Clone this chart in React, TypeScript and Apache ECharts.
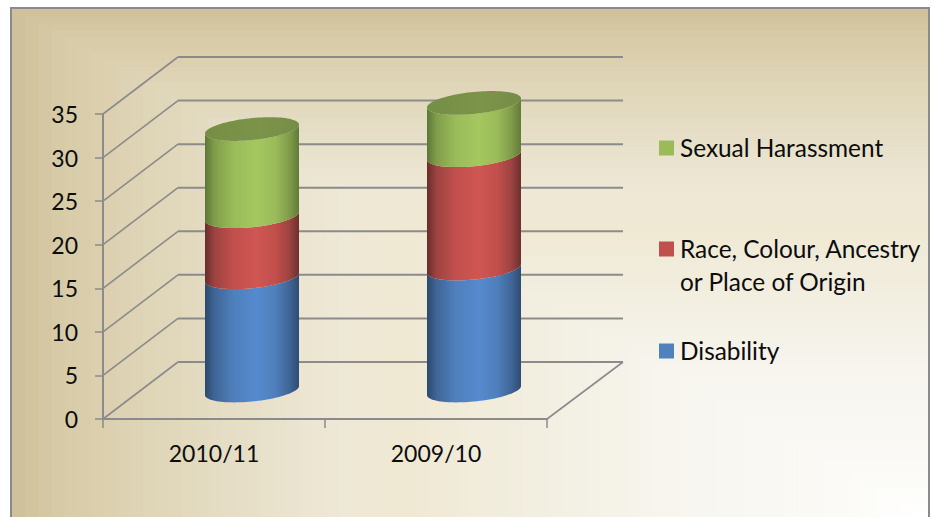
import React, { useEffect, useRef } from "react";
import * as echarts from "echarts";

const categories = ["2010/11", "2009/10"];
const disability = [13, 14];
const raceColour = [7, 13];
const sexualHarassment = [10, 6];
const yTicks = [0, 5, 10, 15, 20, 25, 30, 35];

const WIDTH = 935;
const HEIGHT = 517;
const FONT = "Lato, 'Noto Sans', sans-serif";
const AXIS_GREY = "#8b8b8b";
const DEPTH_X = 75;
const DEPTH_Y = -57;
const RADIUS_X = 47;
const RADIUS_Y = 11;
const SHEAR = 4.5;

// Side shading of each drum: dark rim, soft shoulder, broad bright band, mirrored on the right.
const shades = {
  blue: ["#2c486c", "#3f6596", "#4f7fbb", "#568ace", "#4f7fbb", "#3f6596", "#2e4c72"],
  red: ["#682c2b", "#9c4341", "#c14f4c", "#cf5653", "#c14f4c", "#9c4341", "#6c302f"],
  green: ["#5c7736", "#7f9d4a", "#9abb59", "#a5c760", "#9abb59", "#7f9b4a", "#617b38"],
};

const bodyFill = (c: string[]) =>
  new echarts.graphic.LinearGradient(0, 0, 1, 0, [
    { offset: 0, color: c[0] },
    { offset: 0.1, color: c[1] },
    { offset: 0.3, color: c[2] },
    { offset: 0.55, color: c[3] },
    { offset: 0.75, color: c[4] },
    { offset: 0.9, color: c[5] },
    { offset: 1, color: c[6] },
  ]);

// Colour ramp of the panel, from the bottom right corner outwards.
const panelStops: [number, number[]][] = [
  [0, [255, 255, 255]],
  [0.1, [251, 250, 246]],
  [0.29, [247, 245, 238]],
  [0.39, [243, 240, 228]],
  [0.58, [239, 232, 211]],
  [0.64, [238, 232, 214]],
  [0.79, [227, 219, 193]],
  [0.945, [216, 203, 168]],
  [1, [207, 192, 155]],
];

const panelColour = (t: number) => {
  for (let i = 1; i < panelStops.length; i++) {
    const [t1, c1] = panelStops[i];
    const [t0, c0] = panelStops[i - 1];
    if (t <= t1) {
      const k = (t - t0) / (t1 - t0);
      const m = c0.map((v, j) => Math.round(v + (c1[j] - v) * k));
      return `rgb(${m[0]},${m[1]},${m[2]})`;
    }
  }
  return "rgb(207,192,155)";
};

const panelBands = () => {
  const left = 12;
  const top = 9;
  const right = 928;
  const bottom = 517;
  const bands: any[] = [];
  const steps = 70;
  for (let i = steps; i >= 1; i--) {
    const t = i / steps;
    bands.push({
      type: "rect",
      z: -10,
      silent: true,
      shape: {
        x: right - t * (right - left),
        y: bottom - t * (bottom - top),
        width: t * (right - left),
        height: t * (bottom - top),
      },
      style: { fill: panelColour(t - 0.5 / steps) },
    });
  }
  return bands;
};

const ellipsePoint = (cx: number, cy: number, angle: number) => [
  cx + RADIUS_X * Math.cos(angle),
  cy + RADIUS_Y * Math.sin(angle) - SHEAR * Math.cos(angle),
];

// Front half of the rim, left to right when reverse is false.
const frontArc = (cx: number, cy: number, reverse: boolean) => {
  const pts: number[][] = [];
  const n = 48;
  for (let i = 0; i <= n; i++) {
    const a = Math.PI * (reverse ? i / n : 1 - i / n);
    pts.push(ellipsePoint(cx, cy, a));
  }
  return pts;
};

const fullRim = (cx: number, cy: number) => {
  const pts: number[][] = [];
  const n = 96;
  for (let i = 0; i < n; i++) pts.push(ellipsePoint(cx, cy, (2 * Math.PI * i) / n));
  return pts;
};

const drumSeries = (name: string, values: number[], below: number[], colours: string[], capped: boolean, capColour?: any) => ({
  type: "custom",
  name,
  coordinateSystem: "cartesian2d",
  z: 5,
  silent: true,
  encode: { x: 0, y: 2 },
  data: values.map((v, i) => [i, below[i], below[i] + v]),
  renderItem: (_p: any, api: any) => {
    const i = api.value(0);
    const low = api.coord([i, api.value(1)]);
    const high = api.coord([i, api.value(2)]);
    const cx = low[0] + DEPTH_X / 2 + 0.5;
    const yLow = low[1] + DEPTH_Y / 2;
    const yHigh = high[1] + DEPTH_Y / 2;
    const children: any[] = [
      {
        type: "polygon",
        shape: { points: [...frontArc(cx, yHigh, false), ...frontArc(cx, yLow, true)] },
        style: { fill: bodyFill(colours) },
      },
    ];
    if (capped) {
      children.push({
        type: "polygon",
        shape: { points: fullRim(cx, yHigh) },
        style: { fill: capColour },
      });
    }
    return { type: "group", children };
  },
});

const cumulative = (...parts: number[][]) =>
  categories.map((_, i) => parts.reduce((s, p) => s + p[i], 0));

export default function App() {
  const ref = useRef<HTMLDivElement>(null);

  useEffect(() => {
    document.body.style.margin = "0";
    const chart = echarts.init(ref.current!, undefined, { renderer: "svg" });

    const legendEntries = [
      { colour: "#9bbb59", y: 148, lines: ["Sexual Harassment"] },
      { colour: "#c0504d", y: 249, lines: ["Race, Colour, Ancestry", "or Place of Origin"] },
      { colour: "#4f81bd", y: 351, lines: ["Disability"] },
    ];

    const legendGraphics: any[] = [];
    legendEntries.forEach((entry) => {
      legendGraphics.push({
        type: "rect",
        shape: { x: 659, y: entry.y - 7.5, width: 15, height: 15 },
        style: { fill: entry.colour },
      });
      entry.lines.forEach((line, k) => {
        legendGraphics.push({
          type: "text",
          x: 680,
          y: entry.y - 1 + k * 33,
          style: {
            text: line,
            fill: "#0c0c0c",
            font: `24.4px ${FONT}`,
            verticalAlign: "middle",
          },
        });
      });
    });

    chart.setOption({
      animation: false,
      backgroundColor: "#ffffff",
      grid: { left: 103, top: 114, width: 444, height: 305, containLabel: false },
      xAxis: {
        type: "category",
        data: categories,
        boundaryGap: true,
        axisLine: { onZero: false, lineStyle: { color: AXIS_GREY, width: 2 } },
        axisTick: { show: true, alignWithLabel: false, length: 9, lineStyle: { color: AXIS_GREY, width: 1.5 } },
        axisLabel: { color: "#0c0c0c", fontFamily: FONT, fontSize: 23, margin: 22 },
        splitLine: { show: false },
      },
      yAxis: {
        type: "value",
        min: 0,
        max: 35,
        interval: 5,
        axisLine: { show: true, lineStyle: { color: AXIS_GREY, width: 2 } },
        axisTick: { show: true, length: 8, lineStyle: { color: AXIS_GREY, width: 1.5 } },
        axisLabel: { color: "#0c0c0c", fontFamily: FONT, fontSize: 23, margin: 25 },
        splitLine: { show: false },
      },
      graphic: { elements: [...panelBands(),
        { type: "polyline", z: -9, silent: true,
          shape: { points: [[11, 517], [11, 8], [929, 8], [929, 517]] },
          style: { stroke: "#8a8a8a", lineWidth: 2, fill: "none" } },
        ...legendGraphics] },
      series: [
        {
          // Gridlines running up the side wall and along the back wall.
          type: "custom",
          coordinateSystem: "cartesian2d",
          z: 1,
          silent: true,
          encode: { y: 1 },
          data: yTicks.map((t) => [0, t]),
          renderItem: (params: any, api: any) => {
            const sys = params.coordSys;
            const y = api.coord([0, api.value(1)])[1];
            const x0 = sys.x;
            const x1 = sys.x + DEPTH_X;
            const x2 = sys.x + sys.width + DEPTH_X + 1;
            const yb = y + DEPTH_Y;
            return {
              type: "group",
              children: [
                { type: "line", shape: { x1: x0, y1: y, x2: x1, y2: yb }, style: { stroke: AXIS_GREY, lineWidth: 1.6 } },
                { type: "line", shape: { x1: x1, y1: yb, x2: x2, y2: yb }, style: { stroke: AXIS_GREY, lineWidth: 2 } },
              ],
            };
          },
        },
        {
          // Right edge of the floor.
          type: "custom",
          coordinateSystem: "cartesian2d",
          z: 1,
          silent: true,
          encode: { y: 1 },
          data: [[0, 0]],
          renderItem: (params: any, api: any) => {
            const sys = params.coordSys;
            const y = api.coord([0, 0])[1];
            const x = sys.x + sys.width;
            return {
              type: "line",
              shape: { x1: x, y1: y, x2: x + DEPTH_X + 1, y2: y + DEPTH_Y },
              style: { stroke: AXIS_GREY, lineWidth: 1.6 },
            };
          },
        },
        drumSeries("Disability", disability, categories.map(() => 0), shades.blue, false),
        drumSeries("Race, Colour, Ancestry or Place of Origin", raceColour, cumulative(disability), shades.red, false),
        drumSeries(
          "Sexual Harassment",
          sexualHarassment,
          cumulative(disability, raceColour),
          shades.green,
          true,
          new echarts.graphic.LinearGradient(0, 0, 1, 0, [
            { offset: 0, color: "#758e45" },
            { offset: 0.6, color: "#7c9449" },
            { offset: 1, color: "#748c46" },
          ])
        ),
      ],
    });
    return () => chart.dispose();
  }, []);

  return <div ref={ref} style={{ position: "absolute", left: 0, top: 0, width: WIDTH, height: HEIGHT }} />;
}
